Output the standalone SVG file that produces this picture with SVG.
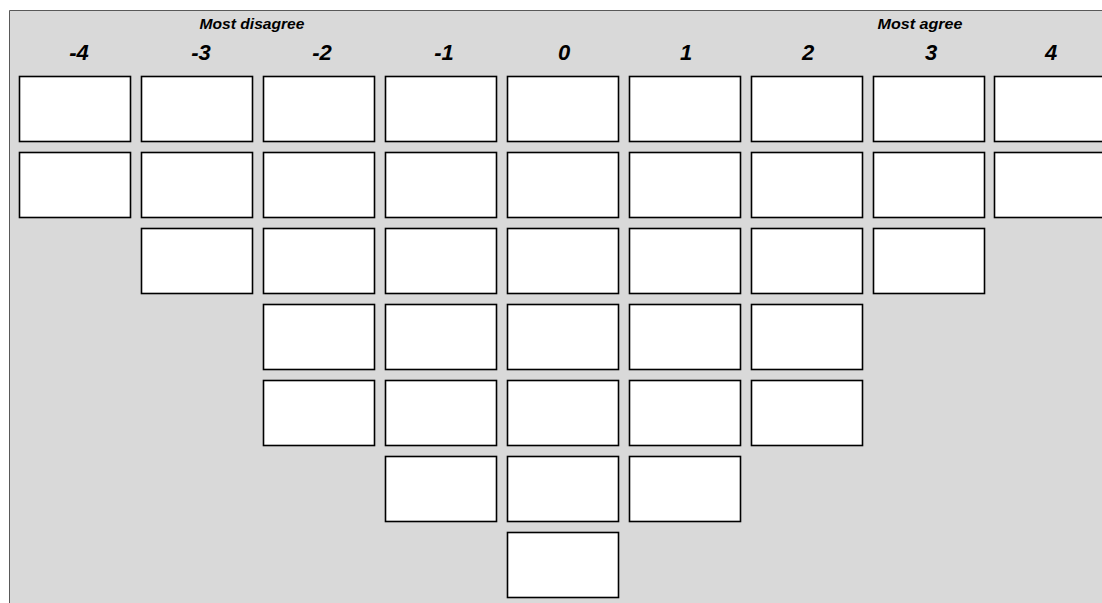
<svg xmlns="http://www.w3.org/2000/svg" width="1102" height="603" viewBox="0 0 1102 603">
<style>
.bg{fill:#d9d9d9;stroke:#595959;stroke-width:1}
.card{fill:#fff;stroke:#000;stroke-width:1.6}
.lab{font-family:"Liberation Sans",Arial,sans-serif;font-weight:bold;font-style:italic;fill:#000;text-anchor:middle}
.head{font-size:15px}
.num{font-size:22px}
</style>
<rect x="0" y="0" width="1102" height="603" fill="#fff"/>
<path d="M9.5 603 V10.5 H1102 V603 Z" fill="#d9d9d9"/>
<path d="M9.5 603 V10.5 H1102" fill="none" stroke="#595959" stroke-width="1"/>
<g id="headers">
<text class="lab head" x="252" y="29" textLength="105" lengthAdjust="spacingAndGlyphs">Most disagree</text>
<text class="lab head" x="920" y="29" textLength="85" lengthAdjust="spacingAndGlyphs">Most agree</text>
<text class="lab num" x="79" y="60">-4</text>
<text class="lab num" x="201" y="60">-3</text>
<text class="lab num" x="322" y="60">-2</text>
<text class="lab num" x="444" y="60">-1</text>
<text class="lab num" x="564" y="60">0</text>
<text class="lab num" x="686" y="60">1</text>
<text class="lab num" x="808" y="60">2</text>
<text class="lab num" x="931" y="60">3</text>
<text class="lab num" x="1051" y="60">4</text>
</g>
<g id="col-m4">
<rect class="card" x="19.5" y="76.5" width="111" height="65"/>
<rect class="card" x="19.5" y="152.5" width="111" height="65"/>
</g>
<g id="col-m3">
<rect class="card" x="141.5" y="76.5" width="111" height="65"/>
<rect class="card" x="141.5" y="152.5" width="111" height="65"/>
<rect class="card" x="141.5" y="228.5" width="111" height="65"/>
</g>
<g id="col-m2">
<rect class="card" x="263.5" y="76.5" width="111" height="65"/>
<rect class="card" x="263.5" y="152.5" width="111" height="65"/>
<rect class="card" x="263.5" y="228.5" width="111" height="65"/>
<rect class="card" x="263.5" y="304.5" width="111" height="65"/>
<rect class="card" x="263.5" y="380.5" width="111" height="65"/>
</g>
<g id="col-m1">
<rect class="card" x="385.5" y="76.5" width="111" height="65"/>
<rect class="card" x="385.5" y="152.5" width="111" height="65"/>
<rect class="card" x="385.5" y="228.5" width="111" height="65"/>
<rect class="card" x="385.5" y="304.5" width="111" height="65"/>
<rect class="card" x="385.5" y="380.5" width="111" height="65"/>
<rect class="card" x="385.5" y="456.5" width="111" height="65"/>
</g>
<g id="col-0">
<rect class="card" x="507.5" y="76.5" width="111" height="65"/>
<rect class="card" x="507.5" y="152.5" width="111" height="65"/>
<rect class="card" x="507.5" y="228.5" width="111" height="65"/>
<rect class="card" x="507.5" y="304.5" width="111" height="65"/>
<rect class="card" x="507.5" y="380.5" width="111" height="65"/>
<rect class="card" x="507.5" y="456.5" width="111" height="65"/>
<rect class="card" x="507.5" y="532.5" width="111" height="65"/>
</g>
<g id="col-p1">
<rect class="card" x="629.5" y="76.5" width="111" height="65"/>
<rect class="card" x="629.5" y="152.5" width="111" height="65"/>
<rect class="card" x="629.5" y="228.5" width="111" height="65"/>
<rect class="card" x="629.5" y="304.5" width="111" height="65"/>
<rect class="card" x="629.5" y="380.5" width="111" height="65"/>
<rect class="card" x="629.5" y="456.5" width="111" height="65"/>
</g>
<g id="col-p2">
<rect class="card" x="751.5" y="76.5" width="111" height="65"/>
<rect class="card" x="751.5" y="152.5" width="111" height="65"/>
<rect class="card" x="751.5" y="228.5" width="111" height="65"/>
<rect class="card" x="751.5" y="304.5" width="111" height="65"/>
<rect class="card" x="751.5" y="380.5" width="111" height="65"/>
</g>
<g id="col-p3">
<rect class="card" x="873.5" y="76.5" width="111" height="65"/>
<rect class="card" x="873.5" y="152.5" width="111" height="65"/>
<rect class="card" x="873.5" y="228.5" width="111" height="65"/>
</g>
<g id="col-p4">
<rect class="card" x="994.5" y="76.5" width="111" height="65"/>
<rect class="card" x="994.5" y="152.5" width="111" height="65"/>
</g>
<g id="connectors"/>
</svg>
